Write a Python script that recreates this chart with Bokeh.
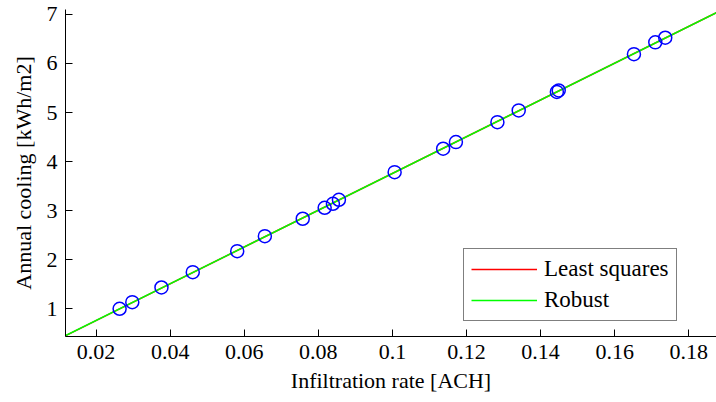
import numpy as np
from bokeh.plotting import figure
from bokeh.models import FixedTicker, Range1d, Legend, LegendItem
from bokeh.embed import file_html
from bokeh.resources import INLINE

# Data
infiltration = [0.02635, 0.02977, 0.03765, 0.0461, 0.0581, 0.06556, 0.07579,
                0.08171, 0.08394, 0.08556, 0.1006, 0.1137, 0.11715, 0.12835,
                0.1341, 0.1444, 0.1449, 0.16521, 0.17097, 0.17366]
cooling = [1.0, 1.135, 1.434, 1.746, 2.174, 2.48, 2.835,
           3.059, 3.14, 3.222, 3.785, 4.262, 4.397, 4.804,
           5.043, 5.42, 5.45, 6.19, 6.43, 6.525]

x_ticks = [0.02, 0.04, 0.06, 0.08, 0.1, 0.12, 0.14, 0.16, 0.18]
x_tick_labels = ["0.02", "0.04", "0.06", "0.08", "0.1", "0.12", "0.14", "0.16", "0.18"]
y_ticks = [1, 2, 3, 4, 5, 6, 7]
x_limits = (0.01174, 0.1875)
y_limits = (0.435, 7.10)

x = np.array(infiltration)
y = np.array(cooling)

# Least squares fit
ls_slope, ls_int = np.polyfit(x, y, 1)

# Robust fit (iteratively reweighted least squares, bisquare weights)
w = np.ones_like(x)
rb_slope, rb_int = ls_slope, ls_int
for _ in range(50):
    W = np.sqrt(w)
    A = np.vstack([x, np.ones_like(x)]).T
    coef, *_ = np.linalg.lstsq(A * W[:, None], y * W, rcond=None)
    rb_slope, rb_int = coef
    r = y - (rb_slope * x + rb_int)
    s = np.median(np.abs(r - np.median(r))) / 0.6745
    if s == 0:
        break
    u = r / (4.685 * s)
    w = np.where(np.abs(u) < 1, (1 - u ** 2) ** 2, 0.0)

x_fit = np.array([x_limits[0] - 0.01, x_limits[1] + 0.01])

FONT = "Liberation Serif"

p = figure(width=716, height=402, output_backend="svg", toolbar_location=None,
           x_range=Range1d(*x_limits), y_range=Range1d(*y_limits),
           min_border_left=65, min_border_right=0, min_border_top=9,
           min_border_bottom=66)
p.outline_line_color = None
p.xgrid.grid_line_color = None
p.ygrid.grid_line_color = None
p.background_fill_color = "white"

r_ls = p.line(x_fit, ls_slope * x_fit + ls_int, line_color="#ff0000", line_width=1.5)
r_rb = p.line(x_fit, rb_slope * x_fit + rb_int, line_color="#00ff00", line_width=1.5)
p.scatter(x, y, marker="circle", size=13, fill_color=None, line_color="#0000ff",
          line_width=1.5)

for ax in (p.xaxis[0], p.yaxis[0]):
    ax.major_tick_in = 7
    ax.major_tick_out = 0
    ax.minor_tick_in = 0
    ax.minor_tick_out = 0
    ax.axis_line_color = "black"
    ax.major_tick_line_color = "black"
    ax.major_label_text_font = FONT
    ax.major_label_text_font_size = "22px"
    ax.major_label_text_color = "black"
    ax.axis_label_text_font = FONT
    ax.axis_label_text_font_size = "22px"
    ax.axis_label_text_font_style = "normal"
    ax.axis_label_text_color = "black"
    ax.major_label_standoff = 8

p.xaxis[0].ticker = FixedTicker(ticks=x_ticks)
p.xaxis[0].major_label_overrides = {t: l for t, l in zip(x_ticks, x_tick_labels)}
p.xaxis[0].axis_label = "Infiltration rate [ACH]"
p.xaxis[0].axis_label_standoff = 6
p.yaxis[0].ticker = FixedTicker(ticks=y_ticks)
p.yaxis[0].axis_label = "Annual cooling [kWh/m2]"
p.yaxis[0].axis_label_standoff = 8

legend = Legend(items=[LegendItem(label="Least squares", renderers=[r_ls]),
                       LegendItem(label="Robust", renderers=[r_rb])],
                location=(398, 15))
legend.label_text_font = FONT
legend.label_text_font_size = "23px"
legend.label_text_color = "black"
legend.glyph_width = 66
legend.glyph_height = 20
legend.label_height = 20
legend.spacing = 5
legend.padding = 7
legend.margin = 0
legend.label_standoff = 7
legend.border_line_color = "black"
legend.border_line_width = 1
legend.background_fill_alpha = 1.0
p.add_layout(legend, "center")

open("out.html", "w").write(file_html(p, INLINE))
